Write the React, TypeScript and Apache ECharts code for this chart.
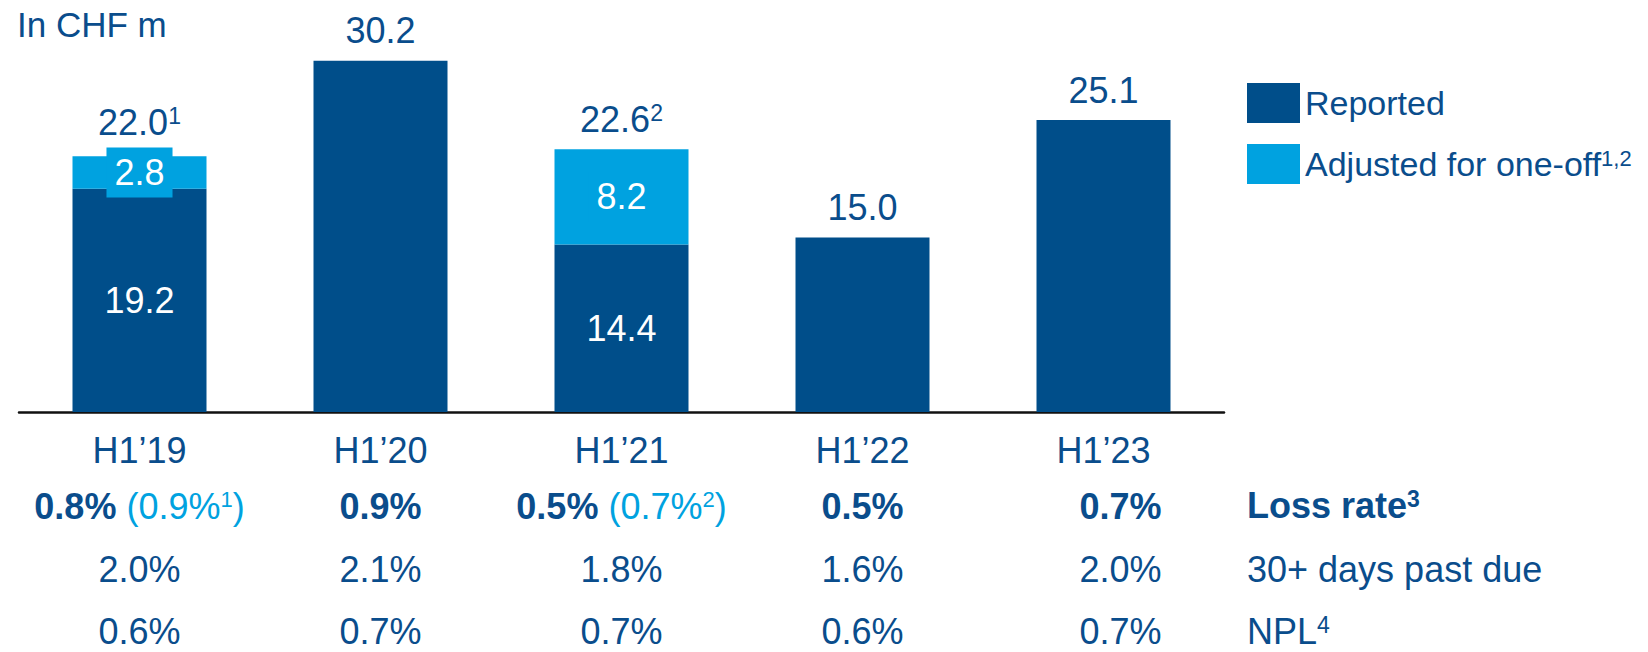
import React, { useEffect, useRef } from "react";
import * as echarts from "echarts";

const categories = ["H1’19", "H1’20", "H1’21", "H1’22", "H1’23"];
const reported = [19.2, 30.2, 14.4, 15.0, 25.1];
const adjusted: (number | null)[] = [2.8, null, 8.2, null, null];
const totals = [22.0, 30.2, 22.6, 15.0, 25.1];
const totalNotes = ["1", "", "2", "", ""];
const lossRate = ["0.8%", "0.9%", "0.5%", "0.5%", "0.7%"];
const lossRateAdj: (string | null)[] = ["0.9%", null, "0.7%", null, null];
const lossRateAdjNotes = ["1", "", "2", "", ""];
const pastDue = ["2.0%", "2.1%", "1.8%", "1.6%", "2.0%"];
const npl = ["0.6%", "0.7%", "0.7%", "0.6%", "0.7%"];
const rowLabels = ["Loss rate", "30+ days past due", "NPL"];
const rowNotes = ["3", "", "4"];
const legendNames = ["Reported", "Adjusted for one-off"];
const legendNotes = ["", "1,2"];

const DARK = "#004E8A";
const LIGHT = "#00A2E0";
const TEXT = "#0A4D8C";
const FONT = "'Liberation Sans', Arial, sans-serif";

export default function App() {
  const ref = useRef<HTMLDivElement>(null);
  useEffect(() => {
    if (!ref.current) return;
    const chart = echarts.init(ref.current, null, { renderer: "svg" });
    const lastIdx = categories.length - 1;
    const pad = (i: number) => (i === lastIdx ? "{pad| }" : "");
    const rowAxis = (offset: number, fmt: (v: string, i: number) => string, rich: any) => ({
      type: "category",
      gridIndex: 0,
      position: "bottom",
      offset,
      data: categories,
      axisLine: { show: false },
      axisTick: { show: false },
      axisLabel: {
        interval: 0,
        margin: 0,
        formatter: fmt,
        rich: { pad: { width: 34, fontSize: 36, lineHeight: 36 }, ...rich },
      },
    });
    const option: any = {
      animation: false,
      textStyle: { fontFamily: FONT },
      grid: { left: 19, right: 424, top: 5, bottom: 240, containLabel: false },
      legend: {
        data: legendNames,
        orient: "vertical",
        left: 1242,
        top: 78,
        itemWidth: 53,
        itemHeight: 40,
        itemGap: 21,
        icon: "rect",
        selectedMode: false,
        formatter: (name: string) => {
          const i = legendNames.indexOf(name);
          return legendNotes[i] ? `{t|${name}}{s|${legendNotes[i]}}` : `{t|${name}}`;
        },
        textStyle: {
          padding: [0, 0, 0, 0],
          rich: {
            t: { fontSize: 34, color: TEXT, fontFamily: FONT, lineHeight: 34 },
            s: { fontSize: 22, color: TEXT, fontFamily: FONT, verticalAlign: "top", lineHeight: 22 },
          },
        },
      },
      xAxis: [
        {
          type: "category",
          data: categories,
          axisLine: { show: true, lineStyle: { color: "#111", width: 2.5 } },
          axisTick: { show: false },
          axisLabel: { interval: 0, margin: 20, fontSize: 36, color: TEXT, fontFamily: FONT, lineHeight: 36 },
        },
        rowAxis(
          76,
          (_v: string, i: number) =>
            pad(i) +
            `{b|${lossRate[i]}}` +
            (lossRateAdj[i] ? `{l| (${lossRateAdj[i]}}{ls|${lossRateAdjNotes[i]}}{l|)}` : ""),
          {
            b: { fontSize: 36, fontWeight: "bold", color: TEXT, fontFamily: FONT, lineHeight: 36 },
            l: { fontSize: 36, color: LIGHT, fontFamily: FONT, lineHeight: 36 },
            ls: { fontSize: 22, color: LIGHT, fontFamily: FONT, verticalAlign: "top", lineHeight: 22 },
          }
        ),
        rowAxis(139, (_v: string, i: number) => pad(i) + `{r|${pastDue[i]}}`, {
          r: { fontSize: 36, color: TEXT, fontFamily: FONT, lineHeight: 36 },
        }),
        rowAxis(201, (_v: string, i: number) => pad(i) + `{r|${npl[i]}}`, {
          r: { fontSize: 36, color: TEXT, fontFamily: FONT, lineHeight: 36 },
        }),
      ],
      yAxis: { type: "value", min: 0, max: 35, show: false, splitLine: { show: false } },
      series: [
        {
          name: "Reported",
          type: "bar",
          stack: "s",
          barWidth: 134,
          data: reported,
          itemStyle: { color: DARK },
          label: {
            show: true,
            position: "inside",
            color: "#fff",
            fontSize: 36,
            fontFamily: FONT,
            formatter: (p: any) => (adjusted[p.dataIndex] != null ? reported[p.dataIndex].toFixed(1) : ""),
          },
        },
        {
          name: "Adjusted for one-off",
          type: "bar",
          stack: "s",
          barWidth: 134,
          data: adjusted,
          itemStyle: { color: LIGHT },
          label: {
            show: true,
            position: "inside",
            color: "#fff",
            fontSize: 36,
            fontFamily: FONT,
            lineHeight: 36,
            backgroundColor: LIGHT,
            padding: [7, 8, 7, 8],
            formatter: (p: any) => (p.value != null ? Number(p.value).toFixed(1) : ""),
          },
        },
        {
          name: "total",
          type: "bar",
          barWidth: 134,
          barGap: "-100%",
          silent: true,
          data: totals.map((v, i) => ({ value: v, label: totalNotes[i] === "1" ? { distance: 16 } : undefined })),
          itemStyle: { color: "rgba(0,0,0,0)" },
          label: {
            show: true,
            position: "top",
            distance: 12,
            formatter: (p: any) =>
              `{v|${totals[p.dataIndex].toFixed(1)}}` + (totalNotes[p.dataIndex] ? `{s|${totalNotes[p.dataIndex]}}` : ""),
            rich: {
              v: { fontSize: 36, color: TEXT, fontFamily: FONT, lineHeight: 36 },
              s: { fontSize: 23, color: TEXT, fontFamily: FONT, verticalAlign: "top", lineHeight: 24 },
            },
          },
        },
      ],
      graphic: [
        {
          type: "text",
          x: 17,
          y: 24,
          style: { text: "In CHF m", fontSize: 35, fill: TEXT, fontFamily: FONT, verticalAlign: "middle" },
        },
        ...rowLabels.map((t, i) => ({
          type: "text",
          x: 1247,
          y: [505, 569, 631][i],
          style: {
            text: `{${i === 0 ? "b" : "r"}|${t}}` + (rowNotes[i] ? `{s|${rowNotes[i]}}` : ""),
            verticalAlign: "middle",
            rich: {
              b: { fontSize: 36, fontWeight: "bold", fill: TEXT, fontFamily: FONT, lineHeight: 36 },
              r: { fontSize: 36, fill: TEXT, fontFamily: FONT, lineHeight: 36 },
              s: { fontSize: 23, fill: TEXT, fontFamily: FONT, verticalAlign: "top", lineHeight: 24, fontWeight: i === 0 ? "bold" : "normal" },
            },
          },
        })),
      ],
    };
    chart.setOption(option);
    return () => chart.dispose();
  }, []);
  return <div ref={ref} style={{ position: "absolute", left: 0, top: 0, width: 1648, height: 652 }} />;
}
